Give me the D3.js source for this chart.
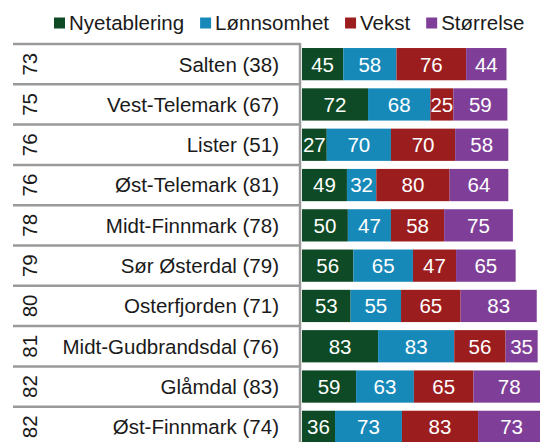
<!DOCTYPE html>
<html>
<head>
<meta charset="utf-8">
<script src="https://cdn.jsdelivr.net/npm/d3@7"></script>
<style>
  body { margin: 0; background: #fff; }
  svg { display: block; font-family: "Liberation Sans", Arial, sans-serif; }
</style>
</head>
<body>
<main></main>
<script>
const w = 540;
const h = 442;
const fontSize = 20.5;

// data
const regions = ["Salten (38)", "Vest-Telemark (67)", "Lister (51)", "Øst-Telemark (81)", "Midt-Finnmark (78)",
                 "Sør Østerdal (79)", "Osterfjorden (71)", "Midt-Gudbrandsdal (76)", "Glåmdal (83)", "Øst-Finnmark (74)"];
const ranks = ["73", "75", "76", "76", "78", "79", "80", "81", "82", "82"];
const seriesNames = ["Nyetablering", "Lønnsomhet", "Vekst", "Størrelse"];
const nyetablering = [45, 72, 27, 49, 50, 56, 53, 83, 59, 36];
const lonnsomhet   = [58, 68, 70, 32, 47, 65, 55, 83, 63, 73];
const vekst        = [76, 25, 70, 80, 58, 47, 65, 56, 65, 83];
const storrelse    = [44, 59, 58, 64, 75, 65, 83, 35, 78, 73];
const colors = ["#0d4a25", "#1789b9", "#9b1d1e", "#7f3f98"];

const rows = regions.map((r, i) => ({
  region: r, rank: ranks[i],
  Nyetablering: nyetablering[i], "Lønnsomhet": lonnsomhet[i], Vekst: vekst[i], "Størrelse": storrelse[i]
}));
const stacked = d3.stack().keys(seriesNames)(rows);

const tableTop = 44, pitch = 40.3;
const yScale = d3.scaleBand()
  .domain(regions)
  .range([tableTop, tableTop + pitch * regions.length])
  .paddingInner(0.2)
  .paddingOuter(0.1);
const xScale = d3.scaleLinear()
  .domain([0, 100])
  .range([302, 302 + 91.7]);

const svg = d3.select("main").append("svg")
  .attr("width", w)
  .attr("height", h);

// table grid lines on the left
const step = yScale.step();
svg.append("g").selectAll("line")
  .data(d3.range(regions.length))
  .join("line")
  .attr("x1", 13).attr("x2", 300)
  .attr("y1", i => tableTop + i * step)
  .attr("y2", i => tableTop + i * step)
  .attr("stroke", "#9a9a9a")
  .attr("stroke-width", 2.5);

svg.append("line")
  .attr("x1", 300).attr("x2", 300)
  .attr("y1", tableTop - 1).attr("y2", h)
  .attr("stroke", "#9a9a9a")
  .attr("stroke-width", 2.5);

// region names
svg.append("g").selectAll("text")
  .data(rows)
  .join("text")
  .attr("x", 279)
  .attr("y", d => yScale(d.region) + yScale.bandwidth() / 2)
  .attr("dy", "0.36em")
  .attr("text-anchor", "end")
  .attr("font-size", fontSize)
  .attr("fill", "#1a1a1a")
  .text(d => d.region);

// rotated rank numbers
svg.append("g").selectAll("text")
  .data(rows)
  .join("text")
  .attr("transform", d => "translate(37," + (yScale(d.region) + yScale.bandwidth() / 2) + ") rotate(-90)")
  .attr("text-anchor", "middle")
  .attr("font-size", fontSize)
  .attr("fill", "#1a1a1a")
  .text(d => d.rank);

// stacked bars
const layers = svg.append("g").selectAll("g")
  .data(stacked)
  .join("g")
  .attr("fill", (d, i) => colors[i]);

layers.selectAll("rect")
  .data(d => d)
  .join("rect")
  .attr("x", d => xScale(d[0]))
  .attr("y", d => yScale(d.data.region))
  .attr("width", d => xScale(d[1]) - xScale(d[0]))
  .attr("height", yScale.bandwidth());

layers.selectAll("text")
  .data(d => d)
  .join("text")
  .attr("x", d => (xScale(d[0]) + xScale(d[1])) / 2)
  .attr("y", d => yScale(d.data.region) + yScale.bandwidth() / 2)
  .attr("dy", "0.36em")
  .attr("text-anchor", "middle")
  .attr("font-size", fontSize)
  .attr("fill", "#fff")
  .text(d => d[1] - d[0]);

// legend
const legend = svg.append("g").attr("id", "legend");
let lx = 54;
seriesNames.forEach((name, i) => {
  legend.append("rect")
    .attr("x", lx).attr("y", 17.5)
    .attr("width", 11).attr("height", 11)
    .attr("fill", colors[i]);
  const t = legend.append("text")
    .attr("x", lx + 15)
    .attr("y", 30)
    .attr("font-size", fontSize)
    .attr("fill", "#1a1a1a")
    .text(name);
  lx += 15 + t.node().getComputedTextLength() + 16;
});
</script>
</body>
</html>
